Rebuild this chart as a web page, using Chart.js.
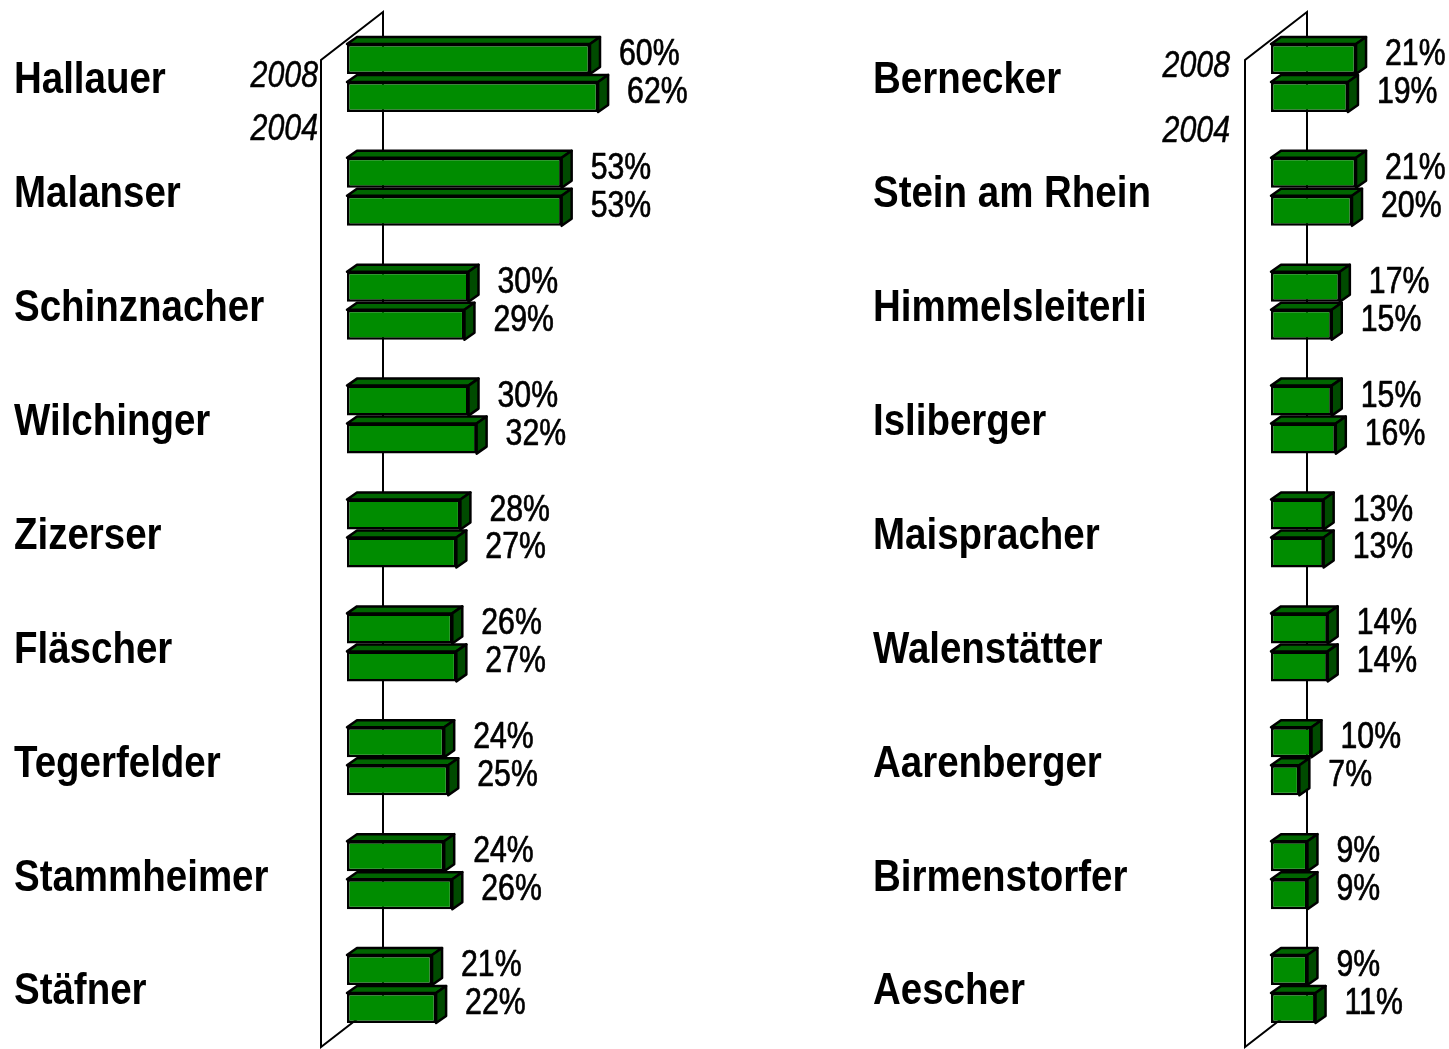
<!DOCTYPE html>
<html>
<head>
<meta charset="utf-8">
<script src="https://cdn.jsdelivr.net/npm/chart.js@4.4.0/dist/chart.umd.min.js"></script>
<style>
  html, body { margin: 0; padding: 0; background: #fff; }
  #wrap { position: relative; width: 1449px; height: 1049px; }
  canvas { position: absolute; top: 0; }
  #leftChart { left: 0; }
  #rightChart { left: 725px; }
</style>
</head>
<body>
<div id="wrap">
  <canvas id="leftChart" width="725" height="1049"></canvas>
  <canvas id="rightChart" width="724" height="1049"></canvas>
</div>
<script>
//DATA
var years = ["2008", "2004"];

var leftLabels = ["Hallauer", "Malanser", "Schinznacher", "Wilchinger", "Zizerser", "Fläscher", "Tegerfelder", "Stammheimer", "Stäfner"];
var left2008 = [60, 53, 30, 30, 28, 26, 24, 24, 21];
var left2004 = [62, 53, 29, 32, 27, 27, 25, 26, 22];

var rightLabels = ["Bernecker", "Stein am Rhein", "Himmelsleiterli", "Isliberger", "Maispracher", "Walenstätter", "Aarenberger", "Birmenstorfer", "Aescher"];
var right2008 = [21, 21, 17, 15, 13, 14, 10, 9, 9];
var right2004 = [19, 20, 15, 16, 13, 14, 7, 9, 11];

//Colors
var $front = "#008c00";
var $top = "#006600";
var $side = "#004b00";
var $ink = "#000000";

var $font = "'Liberation Sans', Arial, sans-serif";

// depth of the fake 3D boxes
var DX = 10, DY = 7;

// Arial-narrow look: squeeze normal Liberation Sans sideways
function narrowText(ctx, text, x, y, align, squeeze, thicken) {
  ctx.save();
  ctx.translate(x, y);
  ctx.scale(squeeze || 0.82, 1);
  ctx.textAlign = align;
  ctx.fillText(text, 0, 0);
  if (thicken) {
    ctx.lineWidth = thicken;
    ctx.strokeStyle = ctx.fillStyle;
    ctx.strokeText(text, 0, 0);
  }
  ctx.restore();
}

// wall + 3D faces + labels
var box3d = {
  id: "box3d",
  beforeDatasetsDraw: function (chart) {
    var ctx = chart.ctx, a = chart.chartArea;
    var fx = a.left - 26, bx = a.left + 36;
    ctx.save();
    ctx.strokeStyle = $ink;
    ctx.lineWidth = 2;
    ctx.beginPath();
    ctx.moveTo(fx, a.bottom + 1);
    ctx.lineTo(fx, a.top + 39);
    ctx.lineTo(bx, a.top - 9);
    ctx.lineTo(bx, a.bottom - 47);
    ctx.closePath();
    ctx.stroke();
    ctx.restore();
  },
  afterDatasetsDraw: function (chart, args, opts) {
    var ctx = chart.ctx, a = chart.chartArea;
    ctx.save();
    ctx.lineJoin = "round";

    chart.data.datasets.forEach(function (ds, i) {
      var meta = chart.getDatasetMeta(i);
      meta.data.forEach(function (bar, j) {
        var p = bar.getProps(["x", "y", "base", "height"], true);
        var x0 = p.base, x1 = p.x;
        var y0 = p.y - p.height / 2, y1 = p.y + p.height / 2;

        ctx.strokeStyle = $ink;
        ctx.lineWidth = 2.5;

        // top face
        ctx.beginPath();
        ctx.moveTo(x0, y0);
        ctx.lineTo(x0 + DX, y0 - DY);
        ctx.lineTo(x1 + DX, y0 - DY);
        ctx.lineTo(x1, y0);
        ctx.closePath();
        ctx.fillStyle = $top;
        ctx.fill();
        ctx.stroke();

        // side face
        ctx.beginPath();
        ctx.moveTo(x1, y0);
        ctx.lineTo(x1 + DX, y0 - DY);
        ctx.lineTo(x1 + DX, y1 - DY);
        ctx.lineTo(x1, y1);
        ctx.closePath();
        ctx.fillStyle = $side;
        ctx.fill();
        ctx.stroke();

        // value
        ctx.fillStyle = $ink;
        ctx.font = "36px " + $font;
        ctx.textBaseline = "alphabetic";
        narrowText(ctx, ds.data[j] + "%", x1 + 29, y1 - 9, "left", 0.84, 0.7);
      });
    });

    // category names
    var ys = chart.scales.y;
    ctx.fillStyle = $ink;
    ctx.font = "bold 45px " + $font;
    ctx.textBaseline = "middle";
    chart.data.labels.forEach(function (lab, i) {
      narrowText(ctx, lab, a.left + opts.labelX, ys.getPixelForValue(i) + 3, "left", 0.855);
    });

    // series names next to the wall
    ctx.font = "italic 37px " + $font;
    ctx.textBaseline = "alphabetic";
    years.forEach(function (y, i) {
      narrowText(ctx, y, a.left + opts.yearX, opts.yearY[i], "right", 0.82, 0.5);
    });
    ctx.restore();
  }
};

function makeChart(id, labels, d2008, d2004, xMax, pad, labelX, yearX, yearY) {
  var ctx = document.getElementById(id).getContext("2d");
  var barStyle = {
    backgroundColor: $front,
    borderColor: $ink,
    borderWidth: 2.5,
    borderSkipped: false,
    categoryPercentage: 0.667,
    barPercentage: 0.79
  };
  return new Chart(ctx, {
    type: "bar",
    data: {
      labels: labels,
      datasets: [
        Object.assign({ label: years[0], data: d2008 }, barStyle),
        Object.assign({ label: years[1], data: d2004 }, barStyle)
      ]
    },
    options: {
      indexAxis: "y",
      responsive: false,
      animation: false,
      layout: { padding: pad },
      scales: {
        x: { display: false, min: 0, max: xMax },
        y: { display: false }
      },
      plugins: {
        legend: { display: false },
        tooltip: { enabled: false },
        colors: { enabled: false },
        box3d: { labelX: labelX, yearX: yearX, yearY: yearY }
      }
    },
    plugins: [box3d]
  });
}

window.onload = function () {
  makeChart("leftChart", leftLabels, left2008, left2004, 80,
    { left: 347, right: 54, top: 21, bottom: 3 }, -333, -29, [87, 140]);
  makeChart("rightChart", rightLabels, right2008, right2004, 30,
    { left: 546, right: 56.5, top: 21, bottom: 3 }, -398, -41, [77, 142]);
};
</script>
</body>
</html>
